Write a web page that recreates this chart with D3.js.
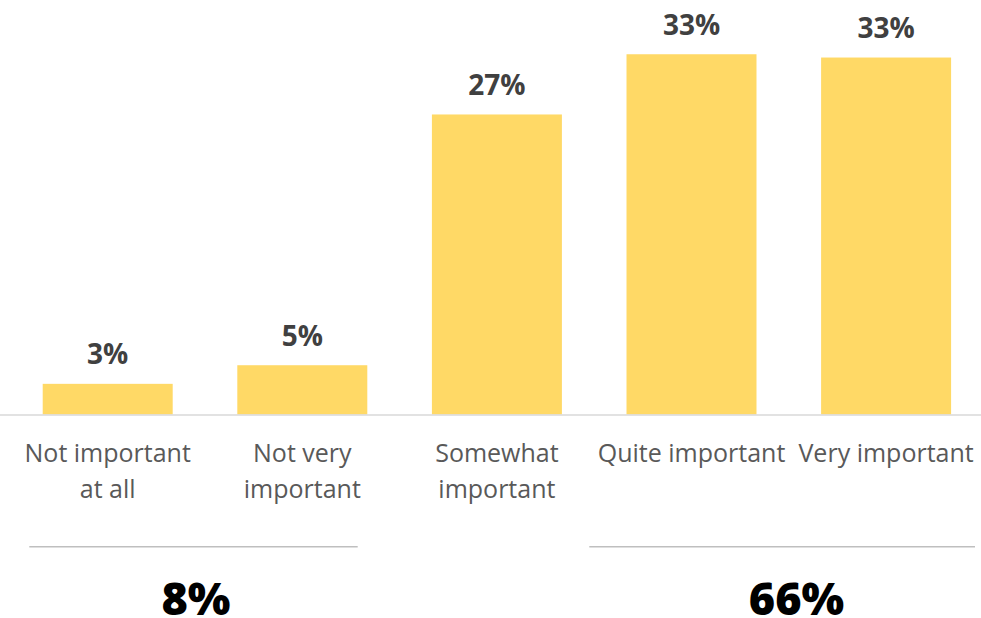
<!DOCTYPE html>
<html>
<head>
<meta charset="utf-8">
<script src="https://cdn.jsdelivr.net/npm/d3@7/dist/d3.min.js"></script>
<style>
  html, body { margin: 0; padding: 0; background: #fff; }
  svg { display: block; }
</style>
</head>
<body>
<svg id="chart" width="981" height="618"></svg>
<script>
// Survey answers: how important is it?
const categories = [
  ["Not important", "at all"],
  ["Not very", "important"],
  ["Somewhat", "important"],
  ["Quite important"],
  ["Very important"]
];
const values = [2.8, 4.5, 27.4, 32.9, 32.6];

// Grouped totals shown beneath the chart (low vs high importance)
const groupTotals = ["8%", "66%"];
const groupMembers = [[0, 1], [3, 4]];

const W = 981, H = 618;
const baseline = 414.5;

const svg = d3.select("#chart");
const keys = d3.range(categories.length);

const x = d3.scaleBand()
  .domain(keys)
  .range([10.4, 983.4])
  .paddingInner(0.332)
  .paddingOuter(0.166);

const y = d3.scaleLinear()
  .domain([0, 35])
  .range([baseline, baseline - 35 * 10.95]);

// bars
svg.append("g")
  .selectAll("rect")
  .data(values)
  .join("rect")
  .attr("x", (d, i) => x(i))
  .attr("y", d => y(d))
  .attr("width", x.bandwidth())
  .attr("height", d => y(0) - y(d))
  .attr("fill", "#FFD966");

// baseline axis
const axis = svg.append("g")
  .attr("transform", `translate(0,${baseline})`)
  .call(d3.axisBottom(x).tickSize(0).tickFormat(""));
axis.select(".domain")
  .attr("d", `M0,0.5H${W}`)
  .attr("stroke", "#D9D9D9")
  .attr("stroke-width", 1.5);

// value labels
svg.append("g")
  .selectAll("text")
  .data(values)
  .join("text")
  .attr("x", (d, i) => x(i) + x.bandwidth() / 2)
  .attr("y", d => y(d) - 19.5)
  .attr("text-anchor", "middle")
  .attr("font-family", "'Open Sans', sans-serif")
  .attr("font-weight", 700)
  .attr("font-size", 28)
  .attr("fill", "#404040")
  .text(d => Math.round(d) + "%");

// category labels
const cat = svg.append("g")
  .selectAll("text")
  .data(categories)
  .join("text")
  .attr("x", (d, i) => x(i) + x.bandwidth() / 2)
  .attr("y", 461.5)
  .attr("text-anchor", "middle")
  .attr("font-family", "'Open Sans', sans-serif")
  .attr("font-size", 25)
  .attr("fill", "#595959");
cat.selectAll("tspan")
  .data(d => d)
  .join("tspan")
  .attr("x", function () { return this.parentNode.getAttribute("x"); })
  .attr("dy", (d, j) => j === 0 ? 0 : 36.5)
  .text(d => d);

// group dividers and totals
const lineSpans = [[29.3, 357.7], [589.3, 975]];
const totalCenters = [196, 796.5];

svg.append("g")
  .selectAll("line")
  .data(lineSpans)
  .join("line")
  .attr("x1", d => d[0])
  .attr("x2", d => d[1])
  .attr("y1", 546.7)
  .attr("y2", 546.7)
  .attr("stroke", "#BFBFBF")
  .attr("stroke-width", 1.5);

svg.append("g")
  .selectAll("text")
  .data(groupTotals)
  .join("text")
  .attr("x", (d, i) => totalCenters[i])
  .attr("y", 614.5)
  .attr("text-anchor", "middle")
  .attr("font-family", "'Open Sans', sans-serif")
  .attr("font-weight", 800)
  .attr("font-size", 45)
  .attr("fill", "#000")
  .text(d => d);
</script>
</body>
</html>
